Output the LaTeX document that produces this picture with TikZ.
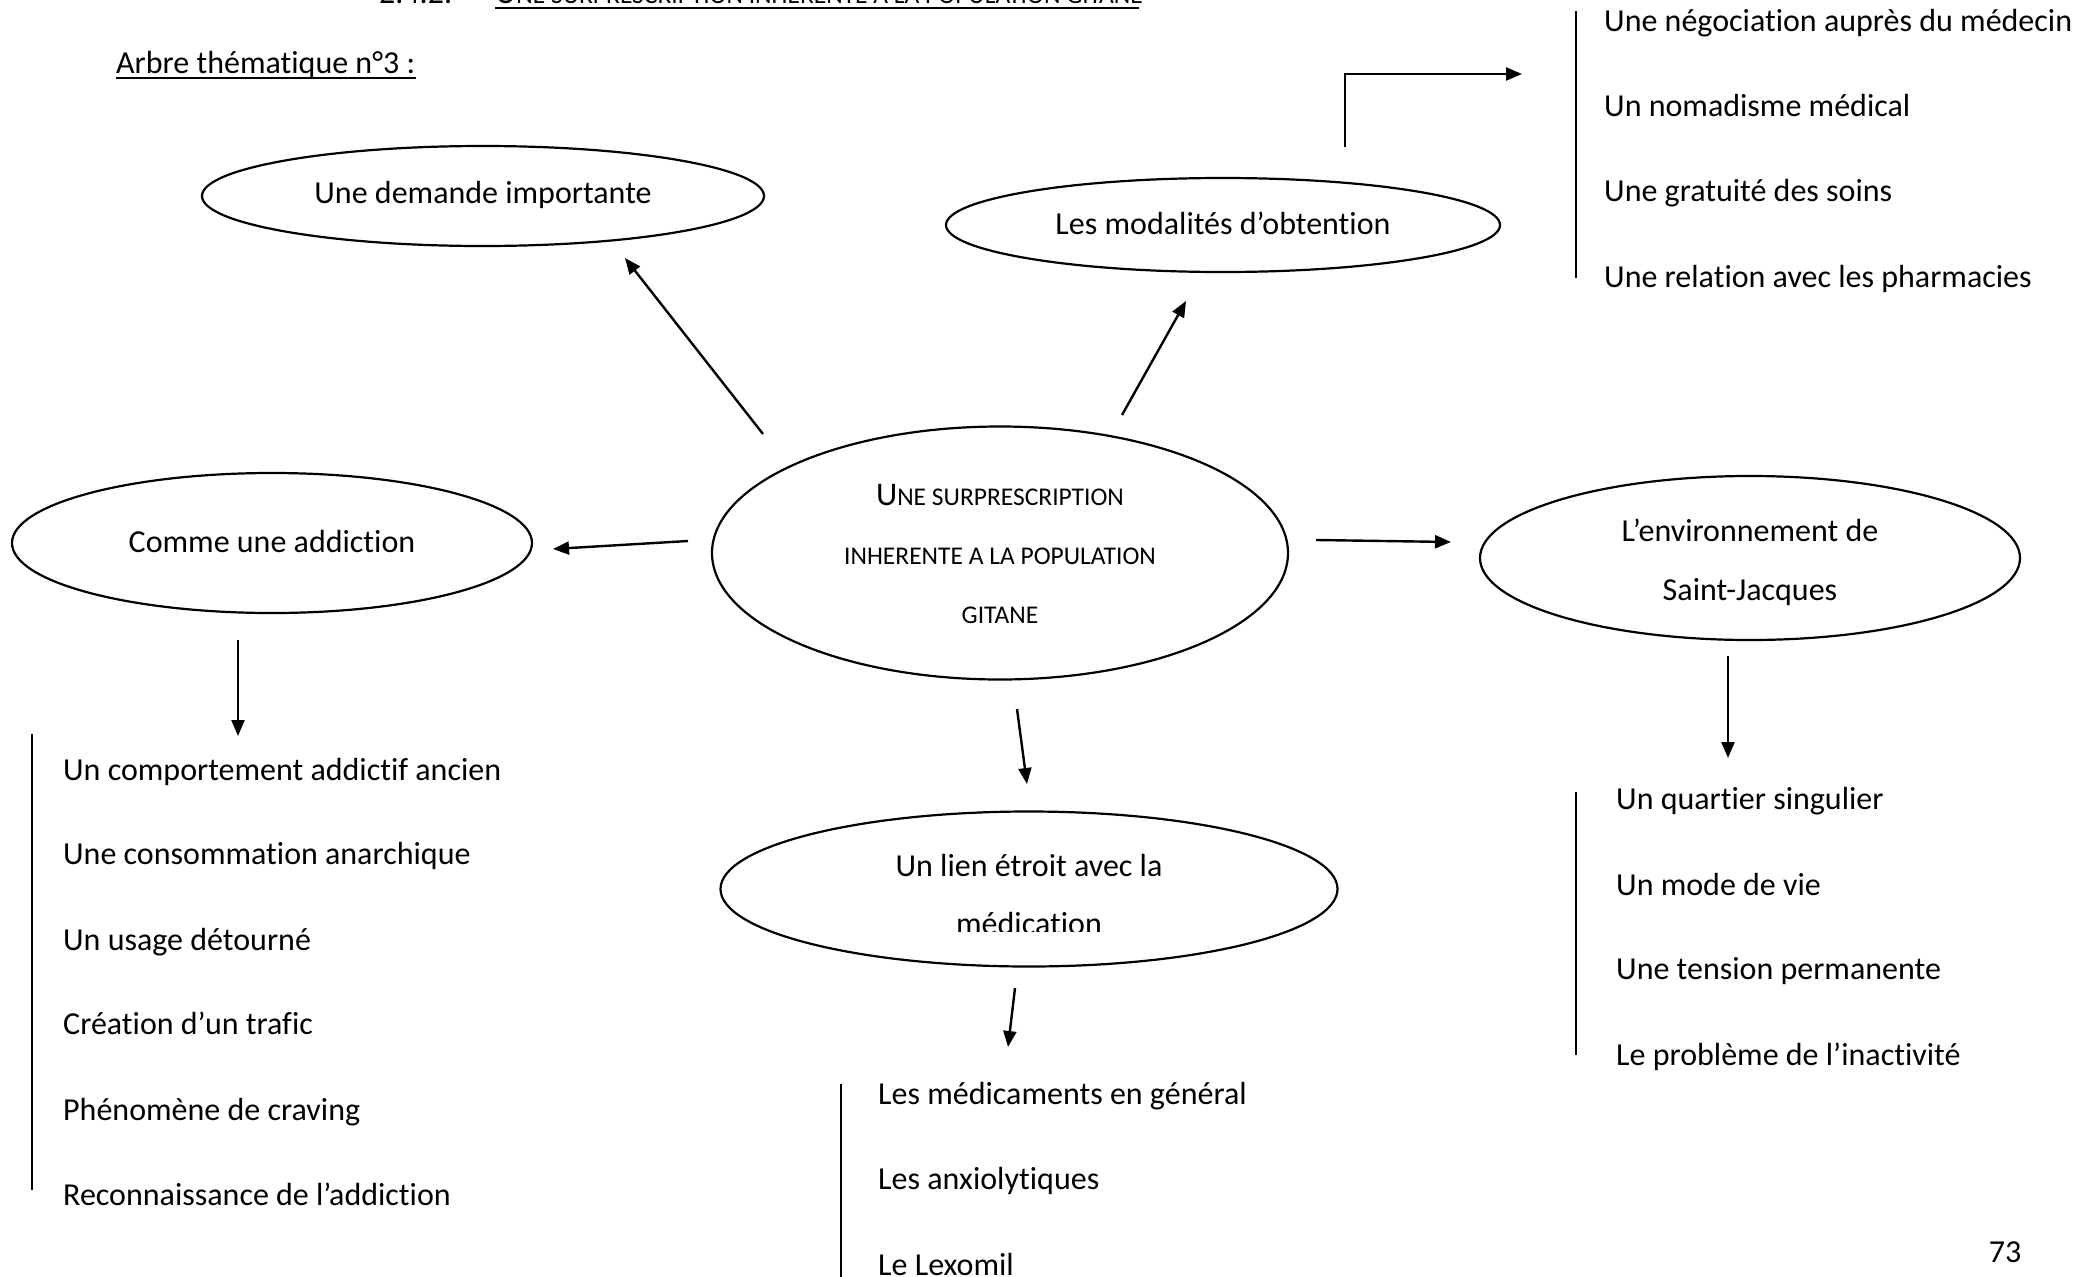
\documentclass[tikz,border=0pt]{standalone}
\usepackage{fontspec}
\setmainfont{Carlito}[RawFeature={-liga;-clig;-calt;-dlig}]
\usetikzlibrary{shapes.geometric,arrows.meta}
\tikzset{
  oval/.style={draw, ellipse, line width=2.2pt, inner sep=0pt},
  txt/.style={anchor=base, inner sep=0pt, font=\fontsize{32}{38}\selectfont},
  ltxt/.style={txt, anchor=base west},
  sctxt/.style={anchor=base, inner sep=0pt, font=\fontsize{25.5}{30}\selectfont},
  arr/.style={line width=2.4pt, -{Triangle[length=16pt,width=13pt]}},
  bar/.style={line width=1.6pt},
}
\newcommand\bigU{{\fontsize{33}{38}\selectfont U}}
\begin{document}
\begin{tikzpicture}[x=1pt,y=-1pt]
\clip (0,0) rectangle (2099,1277);
\fill[white] (0,0) rectangle (2099,1277);

% cut-off heading
\node[txt, anchor=base west] (sec) at (379,3) {2.4.2.};
\node[sctxt, anchor=base west] (head) at (495,3) {\bigU NE SURPRESCRIPTION INHERENTE A LA POPULATION GITANE};
\draw[line width=2pt] (head.base west) ++(0,5) coordinate (h1) -- (1139,8) coordinate (h2);

\node[ltxt] (arbre) at (116,73) {Arbre thématique n°3 :};
\draw[line width=2pt] (116,78) coordinate (u1) -- (416,78) coordinate (u2);

% ellipses
\node[oval, minimum width=562pt, minimum height=100pt] (dem) at (483,196) {};
\node[txt] (demT) at (483,203) {Une demande importante};

\node[oval, minimum width=554pt, minimum height=94pt] (mod) at (1223,225) {};
\node[txt] (modT) at (1223,234) {Les modalités d’obtention};

\node[oval, minimum width=576pt, minimum height=253pt] (ctr) at (1000,553) {};
\node[sctxt] (c1) at (1000,505) {\bigU NE SURPRESCRIPTION};
\node[sctxt] (c2) at (1000,564) {INHERENTE A LA POPULATION};
\node[sctxt] (c3) at (1000,623) {GITANE};

\node[oval, minimum width=520pt, minimum height=140pt] (add) at (272,543) {};
\node[txt] (addT) at (272,552) {Comme une addiction};

\node[oval, minimum width=540pt, minimum height=164pt] (env) at (1750,558) {};
\node[txt] (envT1) at (1750,541) {L’environnement de};
\node[txt] (envT2) at (1750,600) {Saint-Jacques};

\node[oval, minimum width=617pt, minimum height=155pt] (lien) at (1029,889) {};
\node[txt] (lienT1) at (1029,876) {Un lien étroit avec la};
\begin{scope}
\clip (700,890) rectangle (1360,931);
\node[txt] (lienT2) at (1029,934) {médication};
\end{scope}

% arrows
\coordinate (a1s) at (763,434); \coordinate (a1e) at (625,258);
\coordinate (a2s) at (1122,415); \coordinate (a2e) at (1186,301);
\coordinate (a3s) at (688,541); \coordinate (a3e) at (553,549);
\coordinate (a4s) at (1316,540); \coordinate (a4e) at (1451,542);
\coordinate (a5s) at (1017,709); \coordinate (a5e) at (1027,784);
\coordinate (a6s) at (238,640); \coordinate (a6e) at (238,736);
\coordinate (a7s) at (1728,656); \coordinate (a7e) at (1728,758);
\coordinate (a8s) at (1015,988); \coordinate (a8e) at (1008,1047);
\coordinate (a9s) at (1345,147); \coordinate (a9m) at (1345,74); \coordinate (a9e) at (1522,74);
\draw[arr] (a1s) -- (a1e);
\draw[arr] (a2s) -- (a2e);
\draw[arr] (a3s) -- (a3e);
\draw[arr] (a4s) -- (a4e);
\draw[arr] (a5s) -- (a5e);
\draw[arr] (a6s) -- (a6e);
\draw[arr] (a7s) -- (a7e);
\draw[arr] (a8s) -- (a8e);
\draw[arr] (a9s) -- (a9m) -- (a9e);

% top-right list
\coordinate (b1s) at (1576,11); \coordinate (b1e) at (1576,278);
\draw[bar] (b1s) -- (b1e);
\node[ltxt] (m1) at (1604,31) {Une négociation auprès du médecin};
\node[ltxt] (m2) at (1604,116) {Un nomadisme médical};
\node[ltxt] (m3) at (1604,201) {Une gratuité des soins};
\node[ltxt] (m4) at (1604,287) {Une relation avec les pharmacies};

% left list
\coordinate (b2s) at (32,734); \coordinate (b2e) at (32,1190);
\draw[bar] (b2s) -- (b2e);
\node[ltxt] (l1) at (63,780) {Un comportement addictif ancien};
\node[ltxt] (l2) at (63,864) {Une consommation anarchique};
\node[ltxt] (l3) at (63,950) {Un usage détourné};
\node[ltxt] (l4) at (63,1034) {Création d’un trafic};
\node[ltxt] (l5) at (63,1120) {Phénomène de craving};
\node[ltxt] (l6) at (63,1205) {Reconnaissance de l’addiction};

% right list
\coordinate (b3s) at (1576,792); \coordinate (b3e) at (1576,1055);
\draw[bar] (b3s) -- (b3e);
\node[ltxt] (r1) at (1616,809) {Un quartier singulier};
\node[ltxt] (r2) at (1616,895) {Un mode de vie};
\node[ltxt] (r3) at (1616,979) {Une tension permanente};
\node[ltxt] (r4) at (1616,1065) {Le problème de l’inactivité};

% bottom list
\coordinate (b4s) at (841,1084); \coordinate (b4e) at (841,1277);
\draw[bar] (b4s) -- (b4e);
\node[ltxt] (d1) at (878,1104) {Les médicaments en général};
\node[ltxt] (d2) at (878,1189) {Les anxiolytiques};
\node[ltxt] (d3) at (878,1275) {Le Lexomil};

\node[txt] (pg) at (2005,1262) {73};
\end{tikzpicture}
\end{document}
